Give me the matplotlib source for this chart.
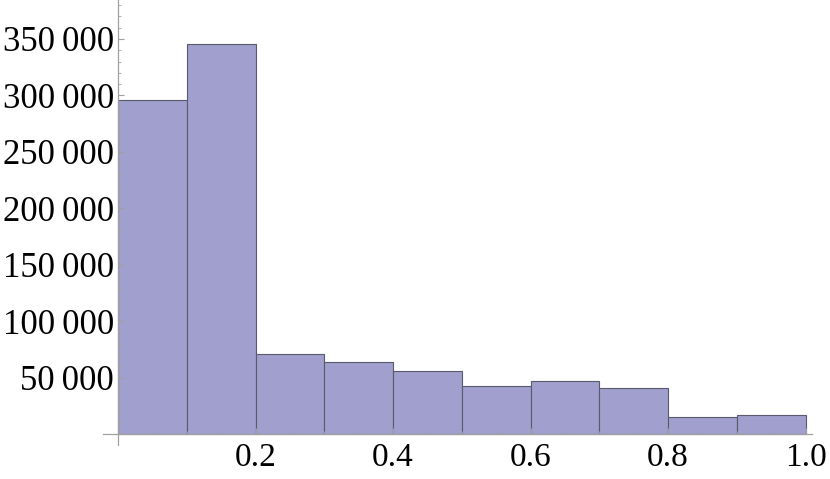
import matplotlib
matplotlib.use("Agg")
import matplotlib.pyplot as plt
from matplotlib.ticker import MultipleLocator, FuncFormatter

# histogram bins (width 0.1) and counts
bin_edges = [0.0, 0.1, 0.2, 0.3, 0.4, 0.5, 0.6, 0.7, 0.8, 0.9, 1.0]
counts = [296000, 345300, 71200, 64200, 56200, 42900, 47300, 41400, 15200, 17000]

x_ticks = [0.2, 0.4, 0.6, 0.8, 1.0]
y_ticks = [50000, 100000, 150000, 200000, 250000, 300000, 350000]

plt.rcParams["font.family"] = ["Liberation Serif", "DejaVu Serif"]

fig = plt.figure(figsize=(8.3, 4.79), dpi=100)
ax = fig.add_axes([0.124, 0.071, 0.854, 0.929])

widths = [b - a for a, b in zip(bin_edges[:-1], bin_edges[1:])]
ax.bar(bin_edges[:-1], counts, width=widths, align="edge",
       color="#a09fcd", edgecolor="#5a5a6e", linewidth=0.8, zorder=1)

ax.set_xlim(-0.022, 1.009)
ax.set_ylim(-9300, 384500)

for side in ("top", "right"):
    ax.spines[side].set_visible(False)
ax.spines["left"].set_position(("data", 0))
ax.spines["bottom"].set_position(("data", 0))
for side in ("left", "bottom"):
    ax.spines[side].set_color("#a0a0a0")
    ax.spines[side].set_linewidth(0.9)
    ax.spines[side].set_zorder(3)

ax.set_xticks(x_ticks)
ax.set_yticks(y_ticks)
ax.xaxis.set_minor_locator(MultipleLocator(0.05))
ax.yaxis.set_minor_locator(MultipleLocator(10000))
ax.xaxis.set_major_formatter(FuncFormatter(lambda v, p: "%.1f" % v))
ax.yaxis.set_major_formatter(
    FuncFormatter(lambda v, p: "{:,}".format(int(v)).replace(",", "\u2009")))

ax.tick_params(which="both", direction="in", color="#a0a0a0",
               labelcolor="black", zorder=3)
ax.tick_params(which="major", length=4.5, width=0.8)
ax.tick_params(which="minor", length=2.5, width=0.6)
ax.tick_params(axis="y", labelsize=25, pad=3)
ax.tick_params(axis="x", labelsize=24, pad=6)

plt.savefig("out.png", dpi=100)
